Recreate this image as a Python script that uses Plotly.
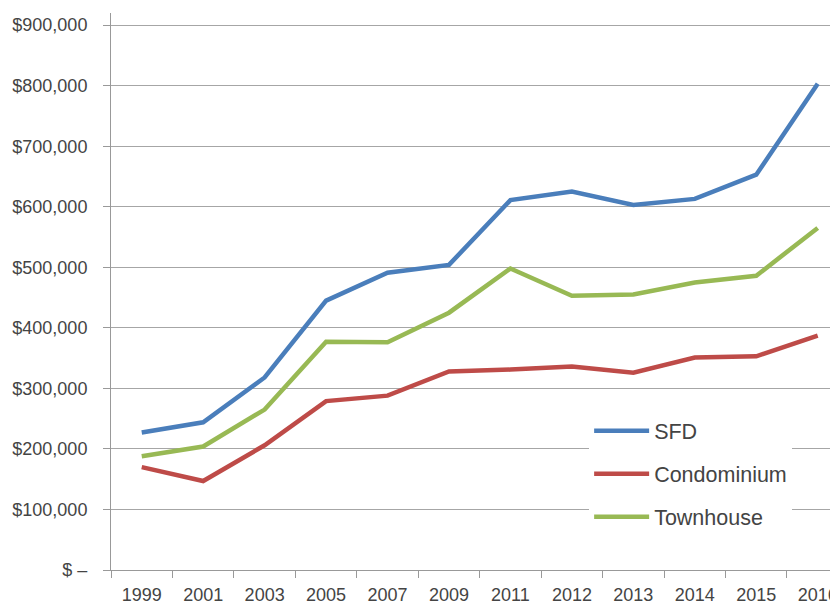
import plotly.graph_objects as go

years = ["1999", "2001", "2003", "2005", "2007", "2009", "2011", "2012", "2013", "2014", "2015", "2016"]
sfd = [227000, 244000, 318000, 445000, 491000, 504000, 611000, 625000, 603000, 613000, 653000, 803000]
condo = [170000, 147000, 206000, 279000, 288000, 328000, 331000, 336000, 326000, 351000, 353000, 387000]
townhouse = [188000, 204000, 265000, 377000, 376000, 425000, 498000, 453000, 455000, 475000, 486000, 565000]

y_tickvals = [0, 100000, 200000, 300000, 400000, 500000, 600000, 700000, 800000, 900000]
y_ticktext = ["$ \u2013", "$100,000", "$200,000", "$300,000", "$400,000", "$500,000",
              "$600,000", "$700,000", "$800,000", "$900,000"]

series = [("SFD", sfd, "#4A7EBB"), ("Condominium", condo, "#BE4B48"), ("Townhouse", townhouse, "#98B954")]

fig = go.Figure()
for i, (name, vals, color) in enumerate(series):
    fig.add_trace(go.Scatter(x=years, y=vals, name=name, mode="lines",
                             line=dict(color=color, width=4.5), legendgroup=f"g{i}"))

font = dict(family="Liberation Sans, Arial, sans-serif", color="#444444")
fig.update_layout(
    width=830, height=597,
    margin=dict(l=103, r=0, t=5, b=34),
    paper_bgcolor="white", plot_bgcolor="white",
    font=font,
    showlegend=True,
    legend=dict(x=0.665, y=0.2867, xanchor="left", yanchor="top",
                bgcolor="white", font=dict(size=21.5, color="#444444"),
                tracegroupgap=12, itemwidth=55),
)
fig.update_xaxes(type="category", range=[-0.5, 11.2], showgrid=False,
                 showline=True, linecolor="#999999", linewidth=1,
                 ticks="outside", tickson="boundaries", ticklen=7, tickcolor="#999999",
                 tickfont=dict(size=18, color="#444444"), ticklabelstandoff=8)
fig.update_yaxes(range=[0, 920000], tickvals=y_tickvals, ticktext=y_ticktext,
                 showgrid=True, gridcolor="#A6A6A6", gridwidth=1,
                 showline=True, linecolor="#999999", linewidth=1,
                 ticks="outside", ticklen=7, tickcolor="#999999", zeroline=False,
                 tickfont=dict(size=18, color="#444444"), ticklabelstandoff=12)

fig.write_html("out.html")
